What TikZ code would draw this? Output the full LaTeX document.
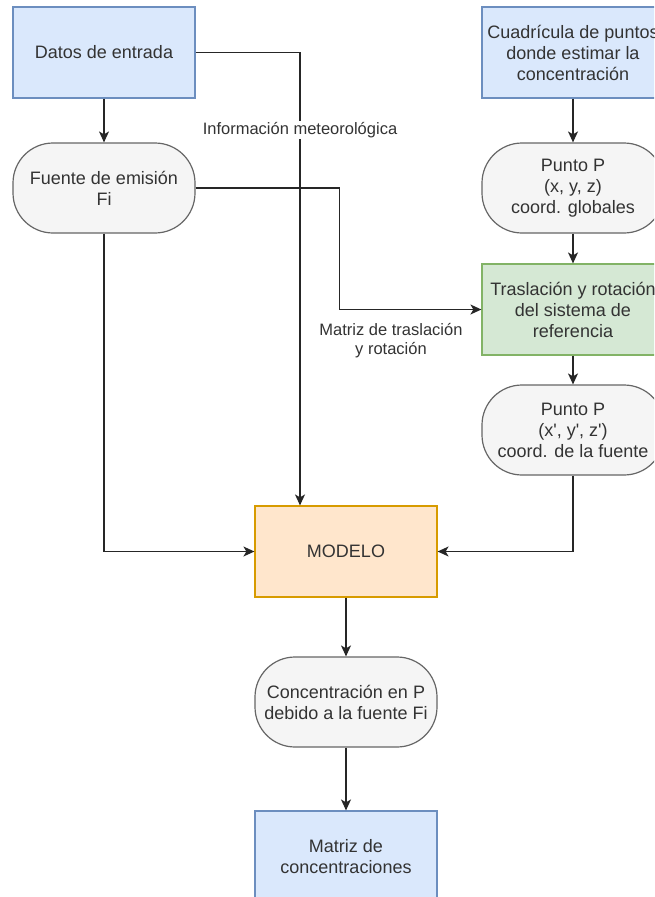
\documentclass[tikz,border=0pt]{standalone}
\usepackage{fontspec}
\setmainfont{Liberation Sans}[Ligatures=TeXOff]
\usetikzlibrary{arrows.meta,positioning}

\definecolor{blueFill}{HTML}{DAE8FC}
\definecolor{blueLine}{HTML}{6C8EBF}
\definecolor{greenFill}{HTML}{D5E8D4}
\definecolor{greenLine}{HTML}{82B366}
\definecolor{orangeFill}{HTML}{FFE6CC}
\definecolor{orangeLine}{HTML}{D79B00}
\definecolor{greyFill}{HTML}{F5F5F5}
\definecolor{greyLine}{HTML}{666666}
\definecolor{txt}{HTML}{333333}

\tikzset{
  box/.style={draw, line width=1.2pt, minimum width=182pt, minimum height=91pt,
    align=center, text=txt, inner sep=0pt,
    font=\fontsize{18pt}{21pt}\selectfont},
  inbox/.style={box, fill=blueFill, draw=blueLine},
  procbox/.style={box, fill=greenFill, draw=greenLine},
  modelbox/.style={box, fill=orangeFill, draw=orangeLine},
  roundbox/.style={box, fill=greyFill, draw=greyLine, minimum height=90pt,
    rounded corners=40pt},
  arr/.style={line width=1.3pt, draw=black!85,
    -{Stealth[length=11pt,width=10pt,inset=3pt]}},
  lbl/.style={text=txt, align=center, inner sep=1pt,
    font=\fontsize{16.5pt}{19pt}\selectfont},
}

\begin{document}
\begin{tikzpicture}[x=1pt,y=-1pt]
  \fill[white] (0,0) rectangle (654,897);
  \useasboundingbox (0,0) rectangle (654,897);
  \clip (0,0) rectangle (654,897);

  % left column
  \node[inbox]    (datos)  at (104,52.5) {Datos de entrada};
  \node[roundbox] (fuente) at (104,188)  {Fuente de emisión\\Fi};

  % right column
  \node[inbox]    (cuad)  at (573,52.5)  {Cuadrícula de puntos\\donde estimar la\\concentración};
  \node[roundbox] (pglob) at (573,188)   {Punto P\\(x, y, z)\\coord. globales};
  \node[procbox]  (tras)  at (573,309.5) {Traslación y rotación\\del sistema de\\referencia};
  \node[roundbox] (ploc)  at (573,430)   {Punto P\\(x', y', z')\\coord. de la fuente};

  % centre column
  \node[modelbox] (modelo) at (346,551.5) {MODELO};
  \node[roundbox] (conc)   at (346,702)   {Concentración en P\\debido a la fuente Fi};
  \node[inbox]    (matriz) at (346,856.5) {Matriz de\\concentraciones};

  % connectors
  \draw[arr] (datos.south) -- (fuente.north);
  \draw[arr] (datos.east) -| ([xshift=-46pt]modelo.north);
  \draw[arr] (fuente.east) -- ++(144,0) |- (tras.west);
  \draw[arr] (fuente.south) |- (modelo.west);
  \draw[arr] (cuad.south) -- (pglob.north);
  \draw[arr] (pglob.south) -- (tras.north);
  \draw[arr] (tras.south) -- (ploc.north);
  \draw[arr] (ploc.south) |- (modelo.east);
  \draw[arr] (modelo.south) -- (conc.north);
  \draw[arr] (conc.south) -- (matriz.north);

  % edge labels
  \node[lbl, fill=white] (infolbl) at (300,130) {Información meteorológica};
  \node[lbl] (matlbl) at (391,341) {Matriz de traslación\\y rotación};
\end{tikzpicture}
\end{document}
